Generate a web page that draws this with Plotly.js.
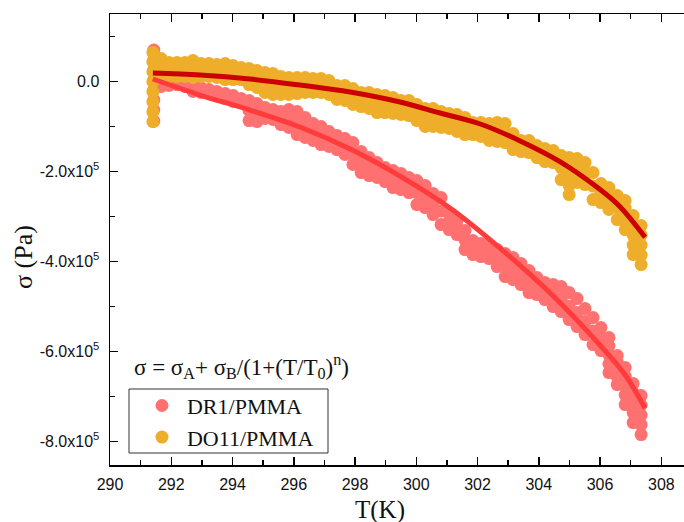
<!DOCTYPE html>
<html><head><meta charset="utf-8">
<script src="https://cdn.plot.ly/plotly-3.0.1.min.js"></script>
<style>html,body{margin:0;padding:0;background:#fff}#chart{width:684px;height:522px}</style>
</head><body><div id="chart"></div>
<script>
// Sample temperatures (K)
var T = [291.67,291.93,292.19,292.45,292.71,292.97,293.23,293.49,293.76,294.02,294.28,294.54,294.80,295.06,295.32,295.58,295.84,296.11,296.37,296.63,296.89,297.15,297.41,297.67,297.93,298.20,298.46,298.72,298.98,299.24,299.50,299.76,300.02,300.29,300.55,300.81,301.07,301.33,301.59,301.85,302.11,302.38,302.64,302.90,303.16,303.42,303.68,303.94,304.20,304.47,304.73,304.99,305.25,305.51,305.77,306.03,306.29,306.56,306.82,307.08,307.34];

// DO11/PMMA stress (kPa): upper, middle and lower part of the scattered band
var do11Up = [51.1,42.2,42.2,42.2,46.7,40.0,40.0,37.8,40.0,35.6,31.1,28.9,24.4,20.0,17.8,11.1,8.9,8.9,8.9,6.7,6.7,2.2,-8.9,-8.9,-15.6,-24.4,-24.4,-28.9,-31.1,-35.6,-42.2,-42.2,-51.1,-60.0,-60.0,-66.7,-71.1,-73.3,-80.0,-91.1,-91.1,-93.3,-91.1,-93.3,-115.6,-131.1,-131.1,-142.2,-148.9,-153.3,-164.4,-168.9,-171.1,-180.0,-202.2,-226.7,-235.6,-253.3,-264.4,-297.8,-320.0];
var do11Mid = [31.1,26.7,26.7,26.7,27.8,25.6,25.6,23.3,22.2,20.0,17.8,11.1,5.6,-2.2,-5.6,-8.9,-10.0,-8.9,-7.8,-8.9,-8.9,-13.3,-24.4,-25.6,-33.3,-40.0,-42.2,-48.9,-50.0,-53.3,-57.8,-58.9,-68.9,-80.0,-80.0,-84.4,-87.8,-92.2,-98.9,-104.4,-106.7,-112.2,-112.2,-114.4,-133.3,-143.3,-144.4,-155.6,-163.3,-166.7,-191.1,-210.0,-197.8,-204.4,-232.2,-247.8,-260.0,-280.0,-296.7,-341.1,-363.3];
var do11Low = [11.1,11.1,11.1,11.1,8.9,11.1,11.1,8.9,4.4,4.4,4.4,-6.7,-13.3,-24.4,-28.9,-28.9,-28.9,-26.7,-24.4,-24.4,-24.4,-28.9,-40.0,-42.2,-51.1,-55.6,-60.0,-68.9,-68.9,-71.1,-73.3,-75.6,-86.7,-100.0,-100.0,-102.2,-104.4,-111.1,-117.8,-117.8,-122.2,-131.1,-133.3,-135.6,-151.1,-155.6,-157.8,-168.9,-177.8,-180.0,-217.8,-251.1,-224.4,-228.9,-262.2,-268.9,-284.4,-306.7,-328.9,-384.4,-406.7];
var do11ExtraT = [291.40,291.40,291.40,291.40,291.40,291.40,291.40,291.40,304.99,304.99,306.82,306.82,307.08,307.08,307.34,307.34];
var do11Extra = [64.4,43.3,21.1,-1.1,-23.3,-45.6,-67.8,-88.9,-188.9,-231.1,-281.1,-312.2,-318.9,-363.3,-341.1,-385.6];

// DR1/PMMA stress (kPa)
var dr1Up = [0.0,-4.4,-4.4,-6.7,-8.9,-13.3,-17.8,-22.2,-26.7,-31.1,-37.8,-42.2,-48.9,-57.8,-62.2,-66.7,-62.2,-66.7,-80.0,-93.3,-100.0,-111.1,-120.0,-126.7,-135.6,-155.6,-168.9,-180.0,-191.1,-197.8,-204.4,-213.3,-220.0,-231.1,-248.9,-257.8,-293.3,-308.9,-331.1,-353.3,-360.0,-364.4,-373.3,-382.2,-391.1,-404.4,-420.0,-435.6,-446.7,-451.1,-455.6,-468.9,-482.2,-504.4,-524.4,-546.7,-568.9,-608.9,-635.6,-671.1,-697.8];
var dr1Mid = [-5.6,-6.7,-5.6,-8.9,-15.6,-18.9,-20.0,-24.4,-32.2,-37.8,-42.2,-64.4,-68.9,-70.0,-73.3,-81.1,-82.2,-92.2,-102.2,-112.2,-120.0,-127.8,-135.6,-144.4,-160.0,-178.9,-188.9,-196.7,-206.7,-216.7,-222.2,-230.0,-246.7,-255.6,-272.2,-287.8,-311.1,-324.4,-352.2,-368.9,-374.4,-378.9,-392.2,-407.8,-415.6,-427.8,-444.4,-454.4,-465.6,-475.6,-483.3,-498.9,-513.3,-533.3,-554.4,-572.2,-607.8,-641.1,-676.7,-714.4,-741.1];
var dr1Low = [-11.1,-8.9,-6.7,-11.1,-22.2,-24.4,-22.2,-26.7,-37.8,-44.4,-46.7,-86.7,-88.9,-82.2,-84.4,-95.6,-102.2,-117.8,-124.4,-131.1,-140.0,-144.4,-151.1,-162.2,-184.4,-202.2,-208.9,-213.3,-222.2,-235.6,-240.0,-246.7,-273.3,-280.0,-295.6,-317.8,-328.9,-340.0,-373.3,-384.4,-388.9,-393.3,-411.1,-433.3,-440.0,-451.1,-468.9,-473.3,-484.4,-500.0,-511.1,-528.9,-544.4,-562.2,-584.4,-597.8,-646.7,-673.3,-717.8,-757.8,-784.4];
var dr1ExtraT = [291.43,291.43,291.43,291.43,291.43,291.43,291.43,291.43,306.29,306.29,306.56,306.56,306.82,306.82,307.08,307.08,307.34,307.34];
var dr1Extra = [70.0,47.8,25.6,3.3,-18.9,-41.1,-63.3,-87.8,-587.8,-627.8,-623.3,-656.7,-654.4,-696.7,-691.1,-735.6,-718.9,-762.2];

// Fitted curves (kPa)
var dr1FitT = [291.40,292.94,294.57,296.20,297.84,299.47,301.10,302.73,304.37,306.00,306.82,307.47];
var dr1Fit = [5.6,-30.0,-63.3,-101,-150,-210,-281,-370,-470,-586,-652,-726];
var do11FitT = [291.40,292.94,294.57,296.20,297.84,299.47,300.78,302.09,303.39,304.69,306.00,306.65,307.47];
var do11Fit = [18.9,14.4,5.6,-7.8,-23.3,-45.6,-70.0,-94.4,-132,-178,-240,-278,-346];

var yTickVals = [0,-2e5,-4e5,-6e5,-8e5];
var yTickText = ['0.0','-2.0x10<sup>5</sup>','-4.0x10<sup>5</sup>','-6.0x10<sup>5</sup>','-8.0x10<sup>5</sup>'];

function pa(a){return a.map(function(v){return v*1000;});}
function band(up,mid,low,exT,ex){
  return {x:T.concat(T,T,exT), y:pa(up.concat(mid,low,ex))};
}
var dr1 = band(dr1Up,dr1Mid,dr1Low,dr1ExtraT,dr1Extra);
var do11 = band(do11Up,do11Mid,do11Low,do11ExtraT,do11Extra);

var traces = [
 {type:'scatter',mode:'markers',name:'DR1/PMMA',x:dr1.x,y:dr1.y,opacity:1,
  marker:{color:'#FF7171',size:13,opacity:1,line:{width:0}}},
 {type:'scatter',mode:'markers',name:'DO11/PMMA',x:do11.x,y:do11.y,opacity:1,
  marker:{color:'#EFAE2A',size:13,opacity:1,line:{width:0}}},
 {type:'scatter',mode:'lines',x:dr1FitT,y:pa(dr1Fit),showlegend:false,
  line:{color:'#FF3B3B',width:5,shape:'spline'}},
 {type:'scatter',mode:'lines',x:do11FitT,y:pa(do11Fit),showlegend:false,
  line:{color:'#CC0000',width:5,shape:'spline'}}
];

var serif = 'Liberation Serif, Times New Roman, serif';
var tickFont = {family:'Liberation Sans, Arial, sans-serif',size:16,color:'#111'};
var layout = {
  width:684,height:522,
  margin:{l:110,r:0,t:14,b:57},
  paper_bgcolor:'#fff',plot_bgcolor:'#fff',
  showlegend:true,
  xaxis:{range:[290,308.74],tick0:290,dtick:2,ticks:'inside',ticklen:8,tickwidth:1.5,tickcolor:'#000',
    showline:true,linecolor:'#000',linewidth:1.5,mirror:'ticks',showgrid:false,zeroline:false,
    tickfont:tickFont,ticklabelstandoff:4,
    minor:{dtick:1,ticks:'inside',ticklen:5,tickwidth:1.5,tickcolor:'#000',showgrid:false}},
  yaxis:{range:[-8.52e5,1.5e5],tickmode:'array',tickvals:yTickVals,ticktext:yTickText,ticks:'inside',ticklen:8,tickwidth:1.5,tickcolor:'#000',
    showline:true,linecolor:'#000',linewidth:1.5,mirror:false,showgrid:false,zeroline:false,
    tickfont:tickFont,ticklabelstandoff:6,
    minor:{tickmode:'linear',tick0:0,dtick:1e5,ticks:'inside',ticklen:5,tickwidth:1.5,tickcolor:'#000',showgrid:false}},
  legend:{x:0.047,y:0.178,xanchor:'left',yanchor:'top',borderwidth:0,bgcolor:'rgba(255,255,255,0)',
    itemwidth:40,font:{family:serif,size:22,color:'#111'},tracegroupgap:0},
  shapes:[{type:'rect',xref:'paper',yref:'paper',x0:(129-110)/574,x1:(328-110)/574,y0:(465-453)/451,y1:(465-389)/451,
    line:{color:'#333',width:1},fillcolor:'rgba(0,0,0,0)'}],
  annotations:[
   {xref:'paper',yref:'paper',x:0.038,y:0.218,xanchor:'left',yanchor:'middle',showarrow:false,
    text:'σ = σ<sub>A</sub>+ σ<sub>B</sub>/(1+(T/T<sub>0</sub>)<sup>n</sup>)',
    font:{family:serif,size:23,color:'#111'}},
   {xref:'paper',yref:'paper',x:(380-110)/574,y:(465-510)/451,xanchor:'center',yanchor:'middle',showarrow:false,
    text:'T(K)',font:{family:serif,size:25,color:'#111'}},
   {xref:'paper',yref:'paper',x:(23-110)/574,y:(465-257)/451,xanchor:'center',yanchor:'middle',showarrow:false,textangle:-90,
    text:'σ (Pa)',font:{family:serif,size:26,color:'#111'}}
  ]
};
Plotly.newPlot('chart',traces,layout,{displayModeBar:false,staticPlot:true});
</script></body></html>
